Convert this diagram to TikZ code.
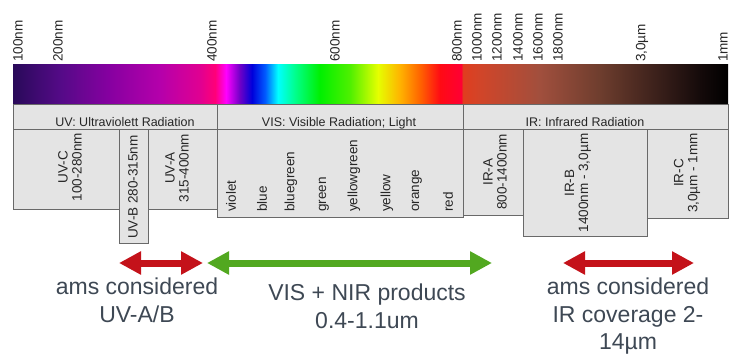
\documentclass[tikz,border=0pt]{standalone}
\usepackage{fontspec}
\setmainfont{Liberation Sans}
\usetikzlibrary{arrows.meta}

\definecolor{boxgray}{RGB}{228,228,228}
\definecolor{linegray}{RGB}{105,105,105}
\definecolor{amsred}{RGB}{196,18,26}
\definecolor{amsgreen}{RGB}{82,168,32}
\definecolor{notetext}{RGB}{62,72,84}

% spectrum colours, 25bp = 100nm edge, 75bp = 1mm edge
\pgfdeclarehorizontalshading{spectrum}{100bp}{
  rgb(0bp)=(0.16,0.04,0.35);
  rgb(25bp)=(0.16,0.04,0.35);
  rgb(28.29bp)=(0.33,0.04,0.53);
  rgb(31.78bp)=(0.53,0,0.63);
  rgb(35.28bp)=(0.71,0,0.67);
  rgb(38.08bp)=(0.88,0,0.57);
  rgb(39.13bp)=(1,0,0.47);
  rgb(39.90bp)=(1,0,1);
  rgb(40.87bp)=(0.43,0,0.78);
  rgb(41.71bp)=(0,0,0.86);
  rgb(42.62bp)=(0,0.35,1);
  rgb(43.53bp)=(0,1,1);
  rgb(44.72bp)=(0,1,0.55);
  rgb(46.47bp)=(0,0.94,0);
  rgb(48.57bp)=(0.31,0.94,0);
  rgb(50.52bp)=(0.9,1,0);
  rgb(52.06bp)=(1,0.7,0);
  rgb(53.46bp)=(1,0.39,0);
  rgb(54.86bp)=(1,0.04,0.08);
  rgb(56.33bp)=(1,0,0.2);
  rgb(56.47bp)=(0.88,0.24,0.12);
  rgb(57.66bp)=(0.82,0.27,0.16);
  rgb(61.85bp)=(0.63,0.31,0.24);
  rgb(66.05bp)=(0.43,0.24,0.18);
  rgb(70.24bp)=(0.22,0.12,0.1);
  rgb(73.04bp)=(0.08,0.04,0.04);
  rgb(75bp)=(0,0,0);
  rgb(100bp)=(0,0,0)}

\begin{document}
\begin{tikzpicture}[x=1pt, y=-1pt,
  tick/.style={rotate=90, anchor=west, inner sep=0pt, text=black!85,
    font=\fontsize{13.5}{14}\selectfont},
  band/.style={draw=linegray, fill=boxgray, line width=0.8pt},
  head/.style={anchor=base, inner sep=0pt, text=black!85,
    font=\fontsize{12.5}{14}\selectfont},
  boxtext/.style={rotate=90, align=center, inner sep=0pt, text=black!85,
    font=\fontsize{13.5}{14}\selectfont},
  note/.style={anchor=north, align=center, inner sep=0pt, text=notetext,
    font=\fontsize{23}{27.5}\selectfont},
  span/.style={line width=7pt,
    {Triangle[length=22pt,width=22pt]}-{Triangle[length=22pt,width=22pt]}}]

  \useasboundingbox (0,0) rectangle (750,361);
  \fill[white] (0,0) rectangle (750,361);

  % Spectrum bar
  \shade[shading=spectrum] (13,65) rectangle (728,104);

  % Wavelength marks
  \foreach \x/\lbl in {18/100nm, 58/200nm, 212/400nm, 335/600nm, 457/800nm,
      477/1000nm, 497/1200nm, 518/1400nm, 538/1600nm, 558/1800nm,
      642/{3,0µm}, 723/1mm}
    \node[tick] (mark\x) at (\x,62) {\lbl};

  % Range headers
  \draw[band] (13,104) rectangle (217,129);
  \draw[band] (217,104) rectangle (463,129);
  \draw[band] (463,104) rectangle (728,129);
  \node[head] (uvhead) at (125,126) {UV: Ultraviolett Radiation};
  \node[head] (vishead) at (339,126) {VIS: Visible Radiation; Light};
  \node[head] (irhead) at (585,126) {IR: Infrared Radiation};

  % UV bands
  \draw[band] (13,129) rectangle (119,209);
  \draw[band] (148,129) rectangle (217,209);
  \draw[band] (119,129) rectangle (148,243);
  \node[boxtext] (uvc) at (70,167) {UV-C\\100-280nm};
  \node[boxtext] (uvb) at (133,187) {UV-B 280-315nm};
  \node[boxtext] (uva) at (177,168) {UV-A\\315-400nm};

  % Visible colours
  \draw[band] (217,129) rectangle (463,217);
  \foreach \x/\lbl in {231/violet, 262/blue, 291/bluegreen, 324/green,
      354/yellowgreen, 387/yellow, 417/orange, 448/red}
    \node[tick] (col\x) at (\x,212) {\lbl};

  % IR bands
  \draw[band] (463,129) rectangle (523,215);
  \draw[band] (647,129) rectangle (728,218);
  \draw[band] (523,129) rectangle (647,236);
  \node[boxtext] (ira) at (495,172) {IR-A\\800-1400nm};
  \node[boxtext] (irb) at (578,183) {IR-B\\1400nm - 3,0µm};
  \node[boxtext] (irc) at (687,173) {IR-C\\3,0µm - 1mm};

  % Coverage arrows
  \coordinate (uvL) at (119,263);
  \coordinate (uvR) at (203,263);
  \coordinate (visL) at (207,263);
  \coordinate (visR) at (492,263);
  \coordinate (irL) at (563,263);
  \coordinate (irR) at (694,263);
  \draw[span, amsred] (uvL) -- (uvR);
  \draw[span, amsgreen] (visL) -- (visR);
  \draw[span, amsred] (irL) -- (irR);

  \node[note] (uvnote) at (137,278) {ams considered\\UV-A/B};
  \node[note] (visnote) at (367,284) {VIS + NIR products\\0.4-1.1um};
  \node[note] (irnote) at (628,278) {ams considered\\IR coverage 2-\\14µm};
\end{tikzpicture}
\end{document}
